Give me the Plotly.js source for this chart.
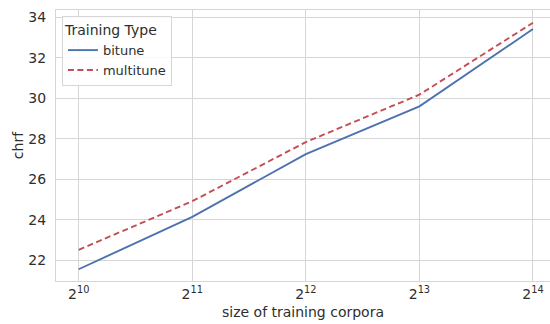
<!DOCTYPE html>
<html>
<head>
<meta charset="utf-8">
<script src="https://cdn.plot.ly/plotly-3.0.1.min.js"></script>
<style>html,body{margin:0;padding:0;background:#fff;}#chart{width:550px;height:324px;}</style>
</head>
<body>
<div id="chart"></div>
<script>
const exponents = [10, 11, 12, 13, 14];
const tickLabels = ["2<sup>10</sup>", "2<sup>11</sup>", "2<sup>12</sup>", "2<sup>13</sup>", "2<sup>14</sup>"];
const bitune = [21.56, 24.15, 27.24, 29.6, 33.42];
const multitune = [22.52, 24.92, 27.84, 30.18, 33.73];
const yTicks = [22, 24, 26, 28, 30, 32, 34];

const font = {family: "DejaVu Sans, sans-serif", size: 14, color: "#2e2e2e"};
const gridColor = "#d6d6d6";

const traces = [
  {x: exponents, y: bitune, name: "bitune", mode: "lines", type: "scatter",
   line: {color: "#4c72b0", width: 1.9}},
  {x: exponents, y: multitune, name: "multitune", mode: "lines", type: "scatter",
   line: {color: "#c44e52", width: 1.9, dash: "6px,3.5px"}}
];

const layout = {
  width: 550, height: 324,
  margin: {l: 56, r: 0, t: 10, b: 43},
  paper_bgcolor: "#ffffff", plot_bgcolor: "#ffffff",
  font: font,
  showlegend: true,
  xaxis: {
    range: [9.8, 14.15],
    tickvals: exponents, ticktext: tickLabels,
    showgrid: true, gridcolor: gridColor, gridwidth: 1,
    zeroline: false, showline: true, linecolor: gridColor, linewidth: 1, mirror: true,
    ticks: "", tickfont: font,
    title: {text: "size of training corpora", font: font, standoff: 6}
  },
  yaxis: {
    range: [20.98, 34.36],
    tickvals: yTicks,
    showgrid: true, gridcolor: gridColor, gridwidth: 1,
    zeroline: false, showline: true, linecolor: gridColor, linewidth: 1, mirror: true,
    ticks: "", tickfont: font, ticklabelstandoff: 6,
    title: {text: "chrf", font: font, standoff: 1}
  },
  legend: {
    x: 0.012, y: 0.978, xanchor: "left", yanchor: "top",
    bgcolor: "rgba(255,255,255,0.85)", bordercolor: "#d6d6d6", borderwidth: 1,
    font: {family: "DejaVu Sans, sans-serif", size: 13, color: "#2e2e2e"},
    title: {text: "Training Type", font: {family: "DejaVu Sans, sans-serif", size: 14, color: "#2e2e2e"}},
    tracegroupgap: 0, itemwidth: 30
  }
};

Plotly.newPlot("chart", traces, layout, {displayModeBar: false, staticPlot: true});
</script>
</body>
</html>
